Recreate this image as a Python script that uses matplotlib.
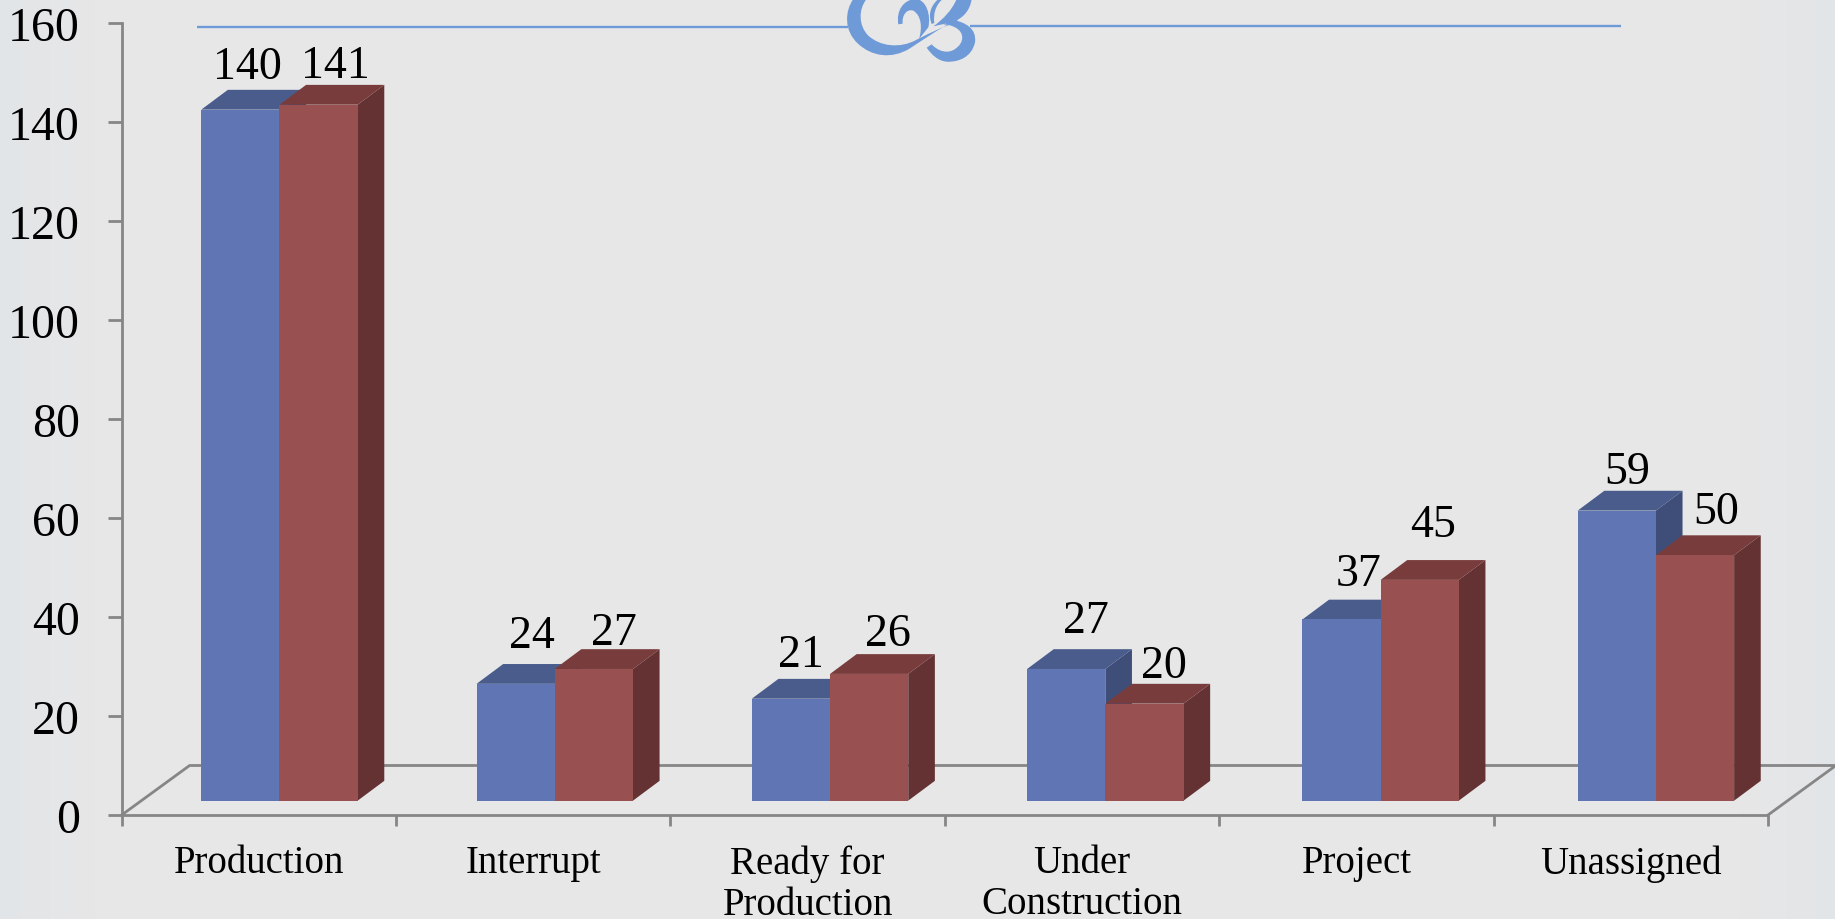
import numpy as np
import matplotlib
matplotlib.use("Agg")
import matplotlib.pyplot as plt
from matplotlib.patches import Polygon, PathPatch
from matplotlib.path import Path
from matplotlib.colors import LinearSegmentedColormap

plt.rcParams['font.family'] = ['Liberation Serif', 'DejaVu Serif']

categories = ["Production", "Interrupt", "Ready for\nProduction",
              "Under\nConstruction", "Project", "Unassigned"]
series_blue = [140, 24, 21, 27, 37, 59]
series_red = [141, 27, 26, 20, 45, 50]
yticks = [0, 20, 40, 60, 80, 100, 120, 140, 160]

# label nudges in pixels (dx from bar center, dy above back edge)
nudge_blue = [(7, 23), (16, 28), (10, 24), (20, 28), (17, 26), (10, 19)]
nudge_red = [(17, 19), (20, 16), (19, 20), (20, 18), (13, 35), (21, 24)]

W, H = 1835, 920
fig = plt.figure(figsize=(W / 100, H / 100), dpi=100)

# background with soft edges
bg = fig.add_axes([0, 0, 1, 1])
X, Y = np.meshgrid(np.linspace(0, 1, 367), np.linspace(0, 1, 184))
edge = np.clip(1 - np.minimum(X, 1 - X) / 0.05, 0, 1)
cmap = LinearSegmentedColormap.from_list("bg", ["#E7E7E7", "#E2E5E8"])
bg.imshow(edge, extent=[0, W, H, 0], aspect="auto", cmap=cmap, vmin=0, vmax=1)
bg.set_xlim(0, W)
bg.set_ylim(H, 0)
bg.axis("off")

# ornament lines and swash
orn = "#6F9AD8"
bg.plot([197, 848], [27.5, 27.5], color=orn, lw=1.7, solid_capstyle="butt")
bg.plot([970, 1621], [26.7, 26.7], color=orn, lw=1.7, solid_capstyle="butt")


def zp(x, y):
    return (835 + x / 3, y / 3)


def curve(start, segs):
    verts = [zp(*start)]
    codes = [Path.MOVETO]
    for s in segs:
        if len(s) == 2:
            verts.append(zp(*s))
            codes.append(Path.LINETO)
        else:
            verts += [zp(s[0], s[1]), zp(s[2], s[3]), zp(s[4], s[5])]
            codes += [Path.CURVE4] * 3
    verts.append(verts[0])
    codes.append(Path.CLOSEPOLY)
    return Path(verts, codes)


shapes = [
    # C with the swash running into the B
    curve((55, 0), [(30, 35, 25, 95, 70, 135), (110, 172, 170, 182, 225, 148),
                    (265, 122, 310, 90, 365, 62), (370, 70), (330, 78, 290, 100, 245, 122),
                    (195, 150, 135, 142, 100, 110), (70, 80, 70, 30, 95, 0)]),
    # inner curl
    curve((190, 76), [(183, 35, 205, 3, 240, 0), (275, 0, 288, 50, 280, 85), (252, 120),
                      (262, 88, 260, 50, 235, 35), (215, 28, 200, 50, 203, 74)]),
    # thin leaf
    curve((290, 75), [(278, 45, 288, 20, 310, 0), (320, 3), (302, 20, 294, 45, 298, 72)]),
    # right leaf of the B
    curve((295, 82), [(325, 60, 350, 35, 365, 0), (410, 0), (405, 35, 385, 55, 358, 68)]),
    # lower bowl
    curve((350, 62), [(395, 70, 425, 90, 420, 130), (410, 175, 370, 190, 335, 188),
                      (310, 186, 290, 168, 275, 146), (290, 136), (310, 158, 340, 165, 360, 150),
                      (388, 132, 390, 100, 360, 85), (345, 78, 335, 75, 325, 78)]),
]
for p in shapes:
    bg.add_patch(PathPatch(p, facecolor=orn, edgecolor="none"))

# main axes, y runs 816 -> 24 px and x spans the six categories
x0, x1 = 121.7, 1768.0
y0, y1 = 816.0, 24.0
ax = fig.add_axes([x0 / W, 1 - y0 / H, (x1 - x0) / W, (y0 - y1) / H])
ax.patch.set_alpha(0)
ax.set_xlim(0, 6)
ax.set_ylim(0, 160)

grey = "#868686"
for s in ["top", "right"]:
    ax.spines[s].set_visible(False)
for s in ["left", "bottom"]:
    ax.spines[s].set_color(grey)
    ax.spines[s].set_linewidth(2)

ax.set_yticks(yticks)
ax.tick_params(axis="y", length=10, width=2, color=grey, pad=20, labelsize=34.5)
ax.set_xticks(range(7))
ax.set_xticklabels([])
ax.tick_params(axis="x", length=8, width=2, color=grey)
for i, c in enumerate(categories):
    ax.annotate(c, (i + 0.5, 0), xytext=(0, -21), textcoords="offset points",
                ha="center", va="top", fontsize=28, linespacing=1.14)

# floor outline
floor_dx = 0.2475
floor_dy = 10
ax.plot([0, floor_dx, 6 + floor_dx, 6], [0, floor_dy, floor_dy, 0],
        color=grey, lw=2, clip_on=False, zorder=1)

# fake 3d bars
bar_off = 0.29
bar_w = 0.285
pitch = 1.0033
base = 2.9
dx = 0.097
dy = 4.0
blue = ("#6076B4", "#4A5C8C", "#3E4E78")
red = ("#985050", "#783C3C", "#643232")


def bar3d(left, val, cols, z):
    right = left + bar_w
    top = base + val - 0.4
    ax.add_patch(Polygon([(right, base), (right + dx, base + dy), (right + dx, top + dy), (right, top)],
                         facecolor=cols[2], edgecolor="none", clip_on=False, zorder=z))
    ax.add_patch(Polygon([(left, top), (left + dx, top + dy), (right + dx, top + dy), (right, top)],
                         facecolor=cols[1], edgecolor="none", clip_on=False, zorder=z))
    ax.add_patch(Polygon([(left, base), (right, base), (right, top), (left, top)],
                         facecolor=cols[0], edgecolor="none", clip_on=False, zorder=z))
    return top + dy


for i in range(len(categories)):
    left = bar_off + i * pitch
    t_b = bar3d(left, series_blue[i], blue, 3)
    t_r = bar3d(left + bar_w, series_red[i], red, 4)
    for lft, t, v, n in [(left, t_b, series_blue[i], nudge_blue[i]),
                         (left + bar_w, t_r, series_red[i], nudge_red[i])]:
        ax.annotate(str(v), (lft + bar_w / 2, t), xytext=(n[0] * 0.72, n[1] * 0.72),
                    textcoords="offset points", ha="center", va="center",
                    fontsize=33, zorder=6, annotation_clip=False)

fig.savefig("out.png", dpi=100)
